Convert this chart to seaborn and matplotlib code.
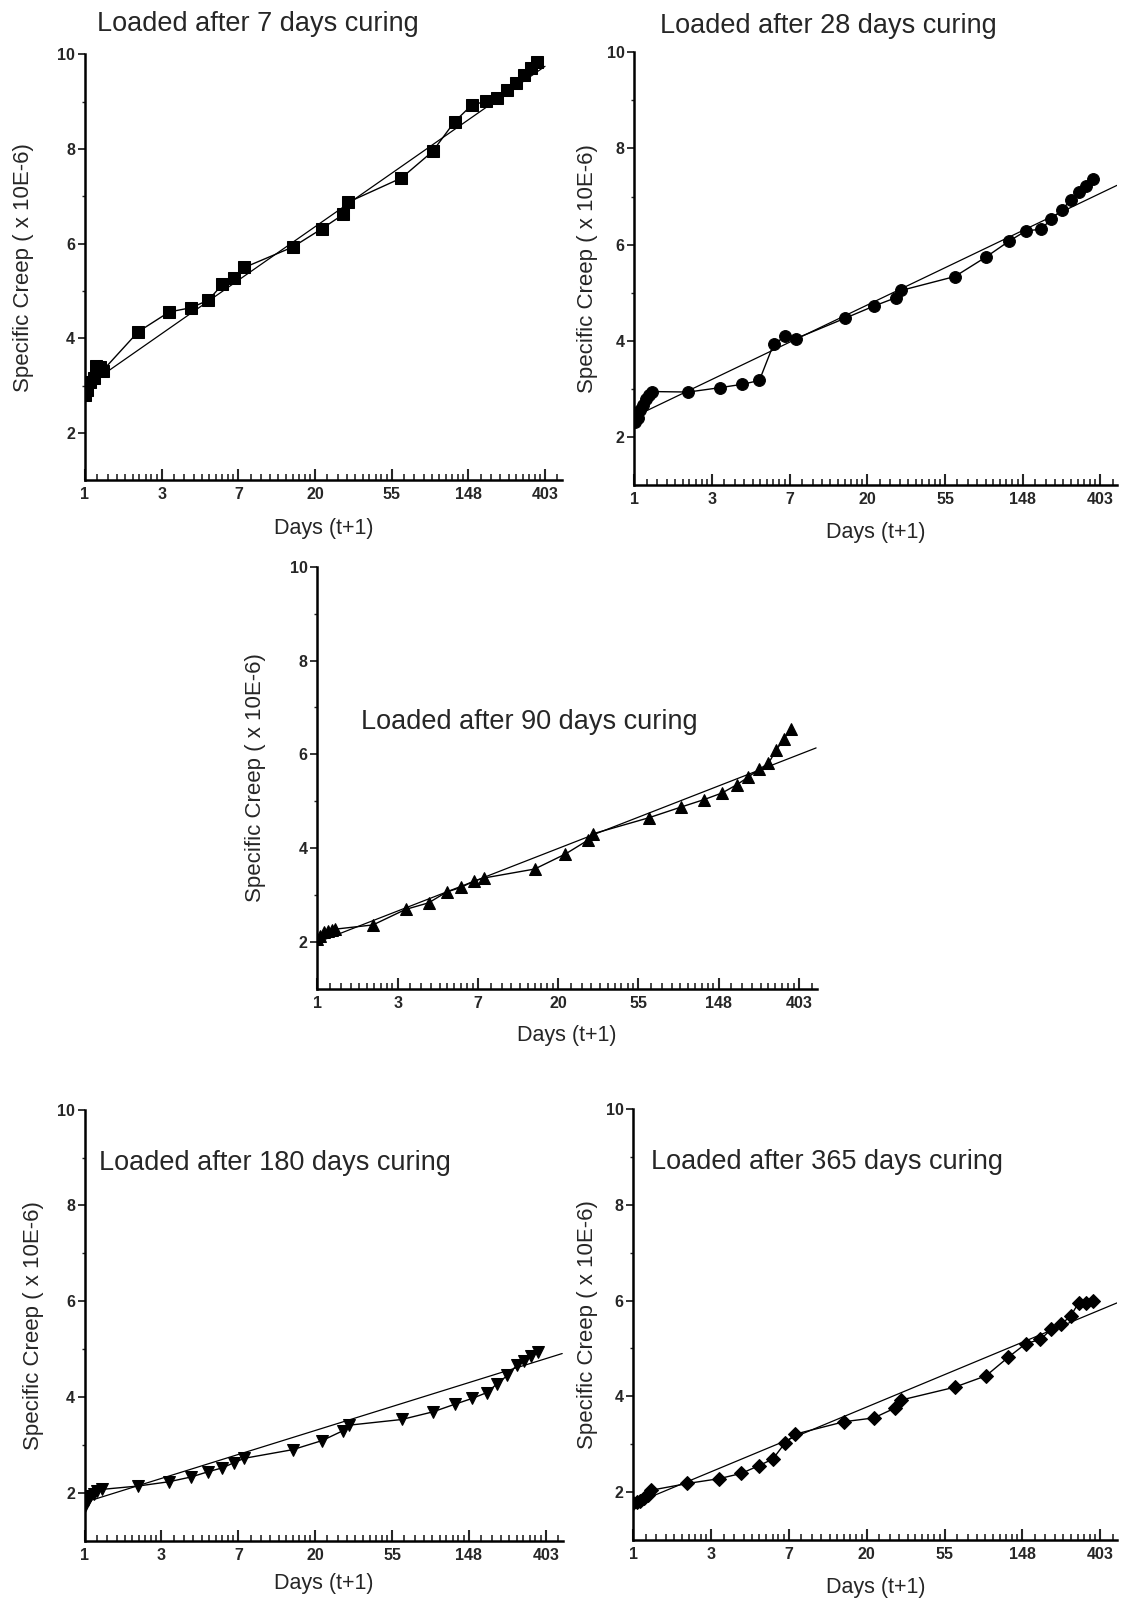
import numpy as np
import matplotlib
matplotlib.use("Agg")
import matplotlib.pyplot as plt
import seaborn as sns
from matplotlib.ticker import FixedLocator, NullFormatter

# Days (t+1) on a natural-log axis, specific creep in x 10E-6
late_days = [2, 3, 4, 5, 6, 7, 8, 15, 22, 29, 31, 62, 93, 124, 155, 187,
             215, 245, 276, 305, 334, 365]

days_7 = [1.0, 1.03, 1.07, 1.12, 1.15, 1.21, 1.26] + late_days
creep_7 = [2.80, 2.91, 3.09, 3.16, 3.42, 3.39, 3.32,
           4.14, 4.56, 4.65, 4.81, 5.14, 5.28, 5.50, 5.93, 6.32, 6.62, 6.88,
           7.39, 7.95, 8.58, 8.93, 9.01, 9.08, 9.25, 9.40, 9.57, 9.71, 9.84]

days_28 = [1.01, 1.05, 1.08, 1.12, 1.16, 1.20, 1.26] + late_days
creep_28 = [2.32, 2.41, 2.56, 2.68, 2.80, 2.87, 2.95,
            2.94, 3.03, 3.10, 3.18, 3.93, 4.10, 4.05, 4.47, 4.73, 4.90, 5.05,
            5.34, 5.75, 6.07, 6.29, 6.32, 6.53, 6.72, 6.93, 7.10, 7.23, 7.37]

days_90 = [1.0, 1.03, 1.08, 1.14, 1.20, 1.25] + late_days
creep_90 = [2.07, 2.14, 2.21, 2.25, 2.26, 2.28,
            2.37, 2.70, 2.84, 3.07, 3.17, 3.30, 3.37, 3.56, 3.88, 4.17, 4.31,
            4.65, 4.88, 5.04, 5.18, 5.36, 5.52, 5.68, 5.81, 6.10, 6.32, 6.55]

days_180 = [1.0, 1.04, 1.07, 1.13, 1.17, 1.25] + late_days
creep_180 = [1.73, 1.84, 1.93, 1.98, 2.03, 2.07,
             2.14, 2.23, 2.33, 2.44, 2.52, 2.63, 2.72, 2.90, 3.09, 3.30, 3.41,
             3.53, 3.69, 3.85, 3.97, 4.09, 4.28, 4.45, 4.66, 4.75, 4.85, 4.94]

days_365 = [1.0, 1.05, 1.09, 1.15, 1.20, 1.26] + late_days
creep_365 = [1.77, 1.80, 1.82, 1.87, 1.94, 2.04,
             2.18, 2.28, 2.39, 2.55, 2.69, 3.02, 3.21, 3.47, 3.55, 3.76, 3.92,
             4.19, 4.43, 4.82, 5.10, 5.19, 5.40, 5.51, 5.68, 5.95, 5.95, 6.00]

# fitted line: creep = a + b * ln(t+1)
fit_a = [2.97, 2.43, 2.00, 1.80, 1.75]
fit_b = [1.13, 0.773, 0.666, 0.50, 0.676]
fit_end = [403, 500, 500, 500, 500]

titles = ["Loaded after 7 days curing", "Loaded after 28 days curing",
          "Loaded after 90 days curing", "Loaded after 180 days curing",
          "Loaded after 365 days curing"]
tick_labels = ["1", "3", "7", "20", "55", "148", "403"]

sns.set_style("ticks")
plt.rcParams["font.family"] = ["Liberation Sans", "DejaVu Sans"]

fig = plt.figure(figsize=(11.21, 16.01), dpi=100)

panels = [
    dict(rect=[0.0758, 0.6999, 0.4255, 0.2661], days=days_7, creep=creep_7,
         marker="s", ms=8, title_xy=(0.025, 1.071), ylab_x=-0.107, xlab_y=-0.088),
    dict(rect=[0.5659, 0.6968, 0.4309, 0.2706], days=days_28, creep=creep_28,
         marker="o", ms=8.5, title_xy=(0.053, 1.061), ylab_x=-0.076, xlab_y=-0.084),
    dict(rect=[0.2831, 0.3821, 0.4453, 0.2640], days=days_90, creep=creep_90,
         marker="^", ms=8.5, title_xy=(0.088, 0.632), ylab_x=-0.103, xlab_y=-0.085),
    dict(rect=[0.0755, 0.0377, 0.4264, 0.2692], days=days_180, creep=creep_180,
         marker="v", ms=8.5, title_xy=(0.030, 0.876), ylab_x=-0.084, xlab_y=-0.076),
    dict(rect=[0.5650, 0.0381, 0.4318, 0.2692], days=days_365, creep=creep_365,
         marker="D", ms=7, title_xy=(0.037, 0.878), ylab_x=-0.074, xlab_y=-0.085),
]

x_max = np.exp(6.22)
major = np.exp(np.arange(7))
minor = [np.exp(n) + k * (np.exp(n + 1) - np.exp(n)) / 10
         for n in range(7) for k in range(1, 10)]
minor = [m for m in minor if m <= x_max]

for i, p in enumerate(panels):
    ax = fig.add_axes(p["rect"])

    sns.lineplot(x=p["days"], y=p["creep"], ax=ax, color="black", linewidth=1,
                 marker=p["marker"], markersize=p["ms"], markeredgecolor="black",
                 estimator=None)

    fit_days = np.array([1.0, fit_end[i]])
    fit_y = fit_a[i] + fit_b[i] * np.log(fit_days)
    sns.lineplot(x=fit_days, y=fit_y, ax=ax, color="black", linewidth=0.9,
                 estimator=None)

    ax.set_xscale("log", base=np.e)
    ax.set_xlim(1, x_max)
    ax.set_ylim(1, 10)

    ax.xaxis.set_major_locator(FixedLocator(major))
    ax.xaxis.set_minor_locator(FixedLocator(minor))
    ax.xaxis.set_minor_formatter(NullFormatter())
    ax.set_xticklabels(tick_labels, fontweight="bold", fontsize=11.5)
    ax.yaxis.set_major_locator(FixedLocator([2, 4, 6, 8, 10]))
    ax.yaxis.set_minor_locator(FixedLocator([3, 5, 7, 9]))
    ax.set_yticklabels(["2", "4", "6", "8", "10"], fontweight="bold", fontsize=11.5)

    ax.tick_params(axis="x", which="major", direction="in", length=8, width=1.5, pad=5)
    ax.tick_params(axis="x", which="minor", direction="in", length=4, width=1.2)
    ax.tick_params(axis="y", which="major", direction="out", length=5, width=1.3, pad=2)
    ax.tick_params(axis="y", which="minor", direction="out", length=2, width=1)

    sns.despine(ax=ax)
    for side in ["left", "bottom"]:
        ax.spines[side].set_linewidth(1.8)
        ax.spines[side].set_color("black")

    ax.set_xlabel("Days (t+1)", fontsize=15.5)
    ax.set_ylabel("Specific Creep ( x 10E-6)", fontsize=16)
    ax.xaxis.set_label_coords(0.5, p["xlab_y"])
    ax.yaxis.set_label_coords(p["ylab_x"], 0.5)

    ax.text(p["title_xy"][0], p["title_xy"][1], titles[i], transform=ax.transAxes,
            fontsize=19.5, ha="left", va="center", clip_on=False)

fig.savefig("out.png", dpi=100)
